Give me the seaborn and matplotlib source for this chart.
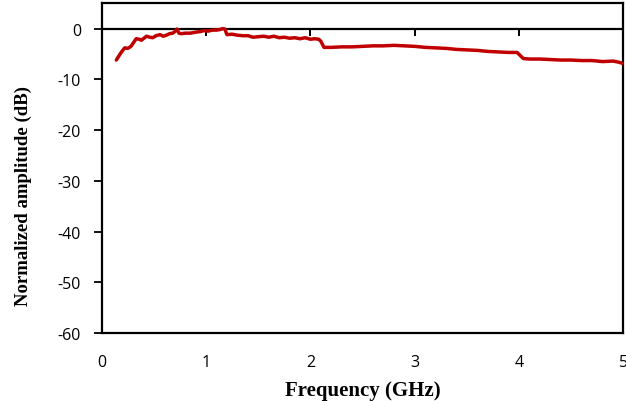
import matplotlib
matplotlib.use("Agg")
import matplotlib.pyplot as plt
from matplotlib.ticker import NullFormatter
import seaborn as sns
import pandas as pd

# values
freq_ghz = [0.14, 0.17, 0.19, 0.22, 0.25, 0.28, 0.31, 0.33, 0.36, 0.38, 0.41, 0.43, 0.46,
            0.49, 0.52, 0.56, 0.59, 0.62, 0.65, 0.68, 0.70, 0.72, 0.74, 0.76, 0.80, 0.85,
            0.90, 0.94, 0.98, 1.02, 1.06, 1.10, 1.13, 1.16, 1.18, 1.20, 1.25, 1.30, 1.35,
            1.40, 1.45, 1.50, 1.55, 1.60, 1.65, 1.70, 1.75, 1.80, 1.85, 1.90, 1.95, 2.00,
            2.04, 2.08, 2.10, 2.13, 2.20, 2.30, 2.40, 2.50, 2.60, 2.70, 2.80, 2.90, 3.00,
            3.10, 3.20, 3.30, 3.40, 3.50, 3.60, 3.70, 3.80, 3.90, 3.98, 4.01, 4.04, 4.10,
            4.20, 4.30, 4.40, 4.50, 4.60, 4.70, 4.80, 4.90, 4.95, 5.00]
amp_db = [-6.2, -5.2, -4.6, -3.8, -3.9, -3.5, -2.6, -2.0, -2.1, -2.3, -1.8, -1.5, -1.7,
          -1.8, -1.4, -1.2, -1.5, -1.3, -1.0, -0.9, -0.6, -0.1, -0.9, -1.0, -0.9, -0.9,
          -0.7, -0.6, -0.4, -0.5, -0.3, -0.3, -0.2, 0.0, -0.1, -1.2, -1.1, -1.3, -1.4,
          -1.4, -1.7, -1.6, -1.5, -1.7, -1.5, -1.8, -1.7, -1.9, -1.8, -2.0, -1.8, -2.1,
          -2.0, -2.1, -2.5, -3.7, -3.7, -3.6, -3.6, -3.5, -3.4, -3.4, -3.3, -3.4, -3.5,
          -3.7, -3.8, -3.9, -4.1, -4.2, -4.3, -4.5, -4.6, -4.7, -4.7, -5.3, -5.9, -6.0,
          -6.0, -6.1, -6.2, -6.2, -6.3, -6.3, -6.5, -6.4, -6.6, -6.9]

x_ticks = [0, 1, 2, 3, 4, 5]
y_ticks = [-60, -50, -40, -30, -20, -10, 0]

df = pd.DataFrame({"freq": freq_ghz, "amp": amp_db})

sns.set_style("white")
plt.rcParams['font.family'] = ['Open Sans', 'DejaVu Sans']
plt.rcParams['axes.unicode_minus'] = False

fig = plt.figure(figsize=(6.26, 4.02), dpi=100)
ax = fig.add_axes([0.1625, 0.169, 0.8335, 0.8205])

ax.axhline(0, color="black", linewidth=1.6, zorder=1)
sns.lineplot(data=df, x="freq", y="amp", sort=False, color="#C00000", linewidth=2.5,
             ax=ax, zorder=3)

ax.set_xlim(0, 5)
ax.set_ylim(-60, 5)
ax.set_xticks(x_ticks)
ax.set_yticks(y_ticks)
ax.tick_params(axis="x", length=0, pad=15, labelsize=11.5, colors="black")
ax.tick_params(axis="y", direction="out", length=6, width=1.3, pad=9, labelsize=11.5,
               colors="black", left=True)

for sp in ax.spines.values():
    sp.set_visible(True)
    sp.set_color("black")
    sp.set_linewidth(1.6)

# small downward ticks on the 0 dB crossing line
zero_axis = ax.secondary_xaxis(60 / 65)
zero_axis.set_xticks([1, 2, 3, 4])
zero_axis.xaxis.set_major_formatter(NullFormatter())
zero_axis.xaxis.set_ticks_position("bottom")
zero_axis.tick_params(axis="x", direction="out", length=5, width=1.4, colors="black")
for sp in zero_axis.spines.values():
    sp.set_visible(False)

ax.set_xlabel("Frequency (GHz)", family="Liberation Serif", weight="bold", size=15,
              color="black", labelpad=7)
ax.set_ylabel("Normalized amplitude (dB)", family="Liberation Serif", weight="bold",
              size=13.5, color="black", va="center")
ax.yaxis.set_label_coords(-0.151, 0.42)

fig.savefig("out.png", dpi=100)
